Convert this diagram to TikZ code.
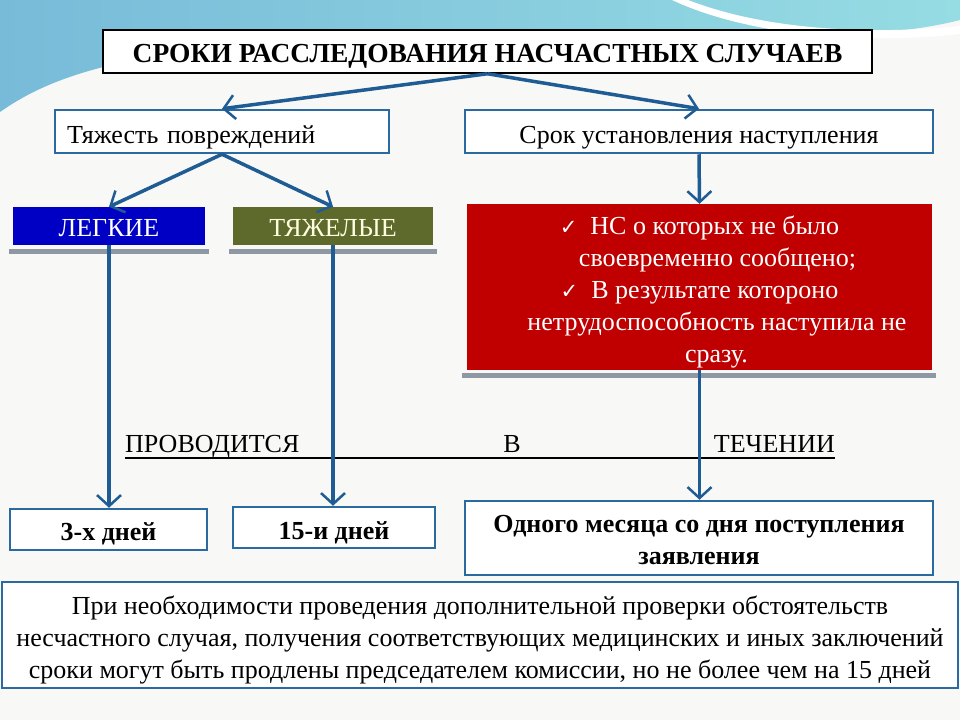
\documentclass[tikz,border=0pt]{standalone}
\usepackage{fontspec}
\setmainfont{Liberation Serif}
\newfontfamily\checkfont{DejaVu Sans}
\usetikzlibrary{arrows.meta}

\definecolor{lineblue}{HTML}{1F5C94}
\definecolor{boxblue}{HTML}{2B6AA0}
\definecolor{lightfill}{HTML}{0000C4}
\definecolor{heavyfill}{HTML}{5E6A2C}
\definecolor{heavytext}{HTML}{FFFFE0}
\definecolor{redfill}{HTML}{C00000}
\definecolor{bargray}{HTML}{8E98A3}
\definecolor{pagewhite}{HTML}{F8F8F6}
\definecolor{skyblue}{HTML}{78BBD9}
\definecolor{skyteal}{HTML}{96DCE3}

\newcommand{\tick}{{\checkfont\fontsize{21}{32}\selectfont ✓}}
\newcommand{\lift}[1]{\rule{0pt}{#1}}

\begin{document}
\begin{tikzpicture}[
    x=1pt, y=-1pt,
    box/.style={%
      draw=boxblue,
      line width=2.5pt,
      fill=white,
      inner sep=0pt,
    },
    fillbox/.style={%
      draw=none,
      inner sep=0pt,
      minimum height=38pt,
    },
    bar/.style={fill=bargray, draw=none},
    arrow/.style={%
      draw=lineblue,
      line width=3.5pt,
      -{Straight Barb[length=11pt,width=24pt,line width=2.5pt]},
    },
    big/.style={font=\fontsize{26}{32}\selectfont},
    bigbold/.style={font=\bfseries\fontsize{26}{32}\selectfont},
    base/.style={text height=#1, text depth=0pt},
  ]

    % background
    \fill [pagewhite] (0,0) rectangle (960,720);
    \shade [left color=skyblue, right color=skyteal]
      (0,0) -- (960,0) -- (960,20)
      .. controls (850,48) and (700,28) .. (480,30)
      .. controls (150,40) and (60,70) .. (0,112) -- cycle;
    \fill [white]
      (688,0) .. controls (760,28) and (860,36) .. (960,26)
      -- (960,34) .. controls (850,46) and (740,32) .. (672,0) -- cycle;

    % boxes
    \node [box, draw=black, line width=1.5pt, minimum width=769pt, minimum height=43pt,
      base=21pt, font=\bfseries\fontsize{27.5}{30}\selectfont] (title) at (487.5,51.5)
      {СРОКИ РАССЛЕДОВАНИЯ НАСЧАСТНЫХ СЛУЧАЕВ};
    \node [box, big, base=23pt, minimum width=334pt, minimum height=43pt,
      text width=310pt, align=left] (sev) at (222,131.5) {Тяжесть повреждений};
    \node [box, big, base=23pt, minimum width=468pt, minimum height=43pt] (term)
      at (699,131.5) {Срок установления наступления};

    \fill [bar] (9,249) rectangle (209,254);
    \fill [bar] (229,249) rectangle (437,254);
    \fill [bar] (462,373) rectangle (936,378);

    \node [fillbox, big, base=20pt, fill=lightfill, text=white, minimum width=192pt]
      (light) at (109,226) {ЛЕГКИЕ};
    \node [fillbox, big, base=20pt, fill=heavyfill, text=heavytext, minimum width=200pt]
      (heavy) at (333,226) {ТЯЖЕЛЫЕ};
    \node [fillbox, big, fill=redfill, text=white, minimum width=465pt,
      minimum height=166pt, align=center] (cases) at (699.5,287)
      {\lift{28pt}\tick\ \ НС о которых не было\\
       \hspace*{36pt}своевременно сообщено;\\
       \tick\ \ В результате котороно\\
       \hspace*{35pt}нетрудоспособность наступила не\\
       \hspace*{34pt}сразу.};

    \node [box, bigbold, base=21pt, minimum width=197pt, minimum height=41pt] (d3)
      at (108.5,529.5) {3-х дней};
    \node [box, bigbold, base=23pt, minimum width=202pt, minimum height=41pt] (d15)
      at (334,527.5) {15-и дней};
    \node [box, bigbold, minimum width=468pt, minimum height=74pt, align=center]
      (month) at (699,538) {\lift{22pt}Одного месяца со дня поступления\\заявления};
    \node [box, big, minimum width=956pt, minimum height=106pt, align=center]
      (note) at (480,635)
      {\lift{28pt}При необходимости проведения дополнительной проверки обстоятельств\\
       несчастного случая, получения соответствующих медицинских и иных заключений\\
       сроки могут быть продлены председателем комиссии, но не более чем на 15 дней};

    % underlined words
    \node [big, inner sep=0pt, anchor=base west] (prov) at (125,452) {ПРОВОДИТСЯ};
    \node [big, inner sep=0pt, anchor=base] (inword) at (512,452) {В};
    \node [big, inner sep=0pt, anchor=base east] (during) at (835,452) {ТЕЧЕНИИ};
    \draw [line width=2pt] ([yshift=-6pt]prov.base west) -- ([yshift=-6pt]during.base east);

    % arrows
    \draw [arrow] (title.south) -- (sev.north);
    \draw [arrow] (title.south) -- (term.north);
    \draw [arrow] (sev.south) -- (light.north);
    \draw [arrow] (sev.south) -- (heavy.north);
    \draw [arrow] (term.south) -- (cases.north);
    \draw [arrow] (light.south) -- (light.south |- d3.north);
    \draw [arrow] (heavy.south) -- (heavy.south |- d15.north);
    \draw [arrow] (cases.south) -- (cases.south |- month.north);
\end{tikzpicture}
\end{document}
